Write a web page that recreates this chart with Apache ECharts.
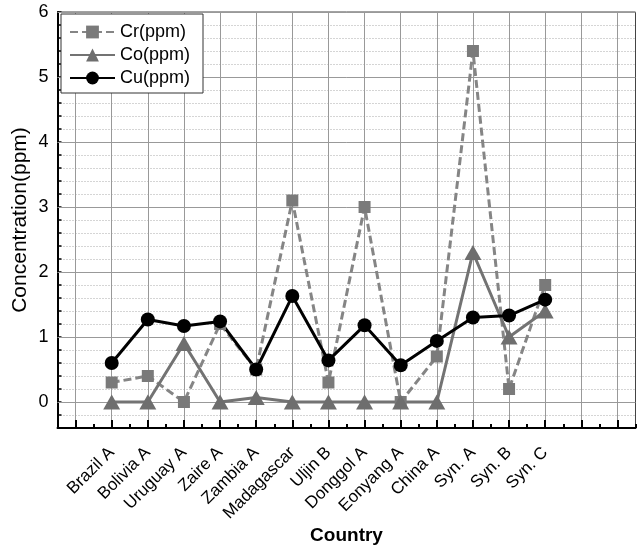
<!DOCTYPE html>
<html>
<head>
<meta charset="utf-8">
<script src="https://cdn.jsdelivr.net/npm/echarts@6/dist/echarts.min.js"></script>
<style>
  html, body { margin: 0; padding: 0; background: #fff; }
  #chart { width: 639px; height: 548px; }
</style>
</head>
<body>
<div id="chart"></div>
<script>
// Sample names along the x axis
const countries = ['Brazil A', 'Bolivia A', 'Uruguay A', 'Zaire A', 'Zambia A', 'Madagascar',
  'Uljin B', 'Donggol A', 'Eonyang A', 'China A', 'Syn. A', 'Syn. B', 'Syn. C'];

// Trace element concentrations (ppm) per sample
const crPpm = [0.3, 0.4, 0.0, 1.2, 0.5, 3.1, 0.3, 3.0, 0.0, 0.7, 5.4, 0.2, 1.8];
const coPpm = [0.0, 0.0, 0.9, 0.0, 0.07, 0.0, 0.0, 0.0, 0.0, 0.0, 2.3, 1.0, 1.4];
const cuPpm = [0.6, 1.27, 1.17, 1.24, 0.5, 1.63, 0.64, 1.18, 0.565, 0.94, 1.3, 1.33, 1.575];

// Major y gridlines (solid)
const yMajor = [0, 1, 2, 3, 4, 5, 6];

// Category slots: one empty slot before the samples, two after
const slots = ['', ...countries, ' ', '  '];

const FONT = '"Liberation Sans", Arial, Helvetica, sans-serif';
const GRAY = '#7a7a7a';

const toPoints = vals => vals.map((v, i) => [i + 1, v]);

const chart = echarts.init(document.getElementById('chart'), null, { renderer: 'canvas' });

chart.setOption({
  animation: false,
  backgroundColor: '#fff',
  textStyle: { fontFamily: FONT },
  grid: {
    left: 57.5, top: 12, width: 578, height: 416,
    outerBoundsMode: 'none',
    containLabel: false,
    show: true, borderColor: '#444', borderWidth: 1, backgroundColor: 'transparent'
  },
  legend: {
    data: ['Cr(ppm)', 'Co(ppm)', 'Cu(ppm)'],
    orient: 'vertical',
    left: 61, top: 14,
    padding: [9, 13, 6, 8],
    itemGap: 5,
    itemWidth: 45,
    itemHeight: 16,
    backgroundColor: '#fff',
    borderColor: '#333',
    borderWidth: 1,
    textStyle: { fontSize: 18, color: '#000', fontFamily: FONT, lineHeight: 18 }
  },
  xAxis: [
    {
      type: 'category',
      data: slots,
      boundaryGap: true,
      position: 'bottom',
      axisLine: { show: true, onZero: false, lineStyle: { color: '#000', width: 2 } },
      axisTick: { show: true, inside: true, alignWithLabel: true, interval: 0, length: 8,
        lineStyle: { color: '#000', width: 2 } },
      axisLabel: { interval: 0, rotate: 45, fontSize: 17, color: '#000', margin: 22, fontFamily: FONT },
      splitLine: { show: true, interval: 0, alignWithLabel: true,
        lineStyle: { color: '#999', width: 1 } },
      name: 'Country',
      nameLocation: 'middle',
      nameGap: 98,
      nameMoveOverlap: false,
      nameTextStyle: { fontSize: 19, fontWeight: 'bold', color: '#000', fontFamily: FONT }
    },
    {
      // minor ticks between samples
      type: 'category',
      data: slots,
      boundaryGap: true,
      position: 'bottom',
      axisLine: { show: false, onZero: false },
      axisTick: { show: true, inside: true, interval: 0, length: 4,
        lineStyle: { color: '#000', width: 2 } },
      axisLabel: { show: false },
      splitLine: { show: false }
    }
  ],
  yAxis: {
    type: 'value',
    min: -0.4,
    max: 6,
    interval: 0.2,
    axisLine: { show: true, onZero: false, lineStyle: { color: '#000', width: 2 } },
    axisTick: { show: true, inside: true, length: 4, lineStyle: { color: '#000', width: 1.5 } },
    axisLabel: {
      fontSize: 18, color: '#000', margin: 9, fontFamily: FONT,
      formatter: v => (Math.abs(v - Math.round(v)) < 1e-6 ? String(Math.round(v)) : '')
    },
    splitLine: { show: true, lineStyle: { color: '#aaa', type: [1, 2], width: 1 } },
    name: 'Concentration(ppm)',
    nameLocation: 'middle',
    nameGap: 27,
    nameMoveOverlap: false,
    nameTextStyle: { fontSize: 21, color: '#000', fontFamily: FONT }
  },
  series: [
    {
      name: 'Cr(ppm)',
      type: 'line',
      data: toPoints(crPpm),
      symbol: 'rect',
      symbolSize: 12,
      lineStyle: { color: '#858585', width: 3, type: [8, 4] },
      itemStyle: { color: GRAY },
      markLine: {
        silent: true,
        z: 1,
        symbol: 'none',
        label: { show: false },
        lineStyle: { color: '#999', type: 'solid', width: 1 },
        emphasis: { disabled: true },
        data: yMajor.map(v => ({ yAxis: v }))
      }
    },
    {
      name: 'Co(ppm)',
      type: 'line',
      data: toPoints(coPpm),
      symbol: 'triangle',
      symbolSize: [17, 15],
      lineStyle: { color: '#737373', width: 3 },
      itemStyle: { color: '#6e6e6e' }
    },
    {
      name: 'Cu(ppm)',
      type: 'line',
      data: toPoints(cuPpm),
      symbol: 'circle',
      symbolSize: 14,
      lineStyle: { color: '#000', width: 3 },
      itemStyle: { color: '#000' }
    }
  ]
});
</script>
</body>
</html>
